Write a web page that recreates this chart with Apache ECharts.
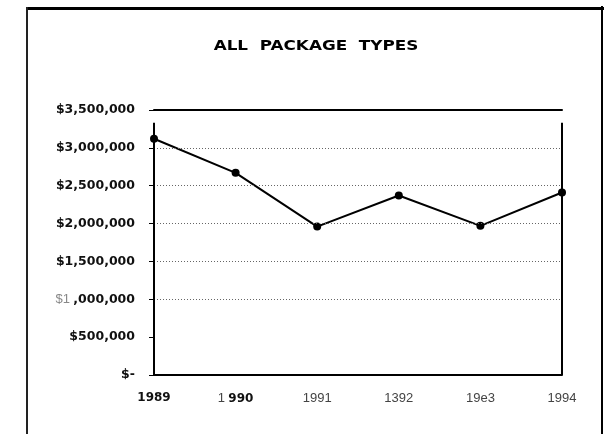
<!DOCTYPE html>
<html>
<head>
<meta charset="utf-8">
<script src="https://cdn.jsdelivr.net/npm/echarts@6/dist/echarts.min.js"></script>
<style>
  html, body { margin: 0; padding: 0; background: #fff; }
  #chart { width: 609px; height: 434px; }
</style>
</head>
<body>
<div id="chart"></div>
<script>
// ---- data ----
const titleText = 'ALL  PACKAGE  TYPES';
const categories = ['1989', '1 990', '1991', '1392', '19e3', '1994'];
const values = [3120000, 2670000, 1960000, 2370000, 1970000, 2410000];
const yTickLabels = ['$-', '$500,000', '$1 ,000,000', '$1,500,000', '$2,000,000', '$2,500,000', '$3,000,000', '$3,500,000'];
const gridValues = [1000000, 1500000, 2000000, 2500000, 3000000];
const yMax = 3500000;
const yStep = 500000;
const sideTop = 3330000;

const chart = echarts.init(document.getElementById('chart'), null, { renderer: 'canvas' });

function xLabel(v) {
  if (v === '1989') return '{b|' + v + '}';
  if (v === '1 990') return '{r|1} {b|990}';
  return '{r|' + v + '}';
}
function yLabel(v) {
  const t = yTickLabels[Math.round(v / yStep)];
  if (t === '$1 ,000,000') return '{g|$1} {b|,000,000}';
  return '{b|' + t + '}';
}

const markData = gridValues.map(v => ({
  yAxis: v,
  lineStyle: { type: [1, 2], color: '#666', width: 1 }
}));
markData.push([
  { coord: [0, 0], lineStyle: { type: 'solid', color: '#000', width: 2 } },
  { coord: [0, sideTop] }
]);
markData.push([
  { coord: [categories.length - 1, 0], lineStyle: { type: 'solid', color: '#000', width: 2 } },
  { coord: [categories.length - 1, sideTop] }
]);

const option = {
  backgroundColor: '#fff',
  animation: false,
  grid: { left: 154, right: 47, top: 110, bottom: 59, containLabel: false },
  graphic: [
    { type: 'line', shape: { x1: 26, y1: 8.5, x2: 604, y2: 8.5 }, style: { stroke: '#000', lineWidth: 3 } },
    { type: 'line', shape: { x1: 27, y1: 7, x2: 27, y2: 434 }, style: { stroke: '#222', lineWidth: 2 } },
    { type: 'line', shape: { x1: 602, y1: 6, x2: 602, y2: 434 }, style: { stroke: '#000', lineWidth: 2 } },
    {
      type: 'text', x: 316, y: 46, scaleX: 1.2,
      style: {
        text: titleText, font: 'bold 14px "DejaVu Sans", sans-serif',
        textAlign: 'center', textVerticalAlign: 'middle', fill: '#000'
      }
    }
  ],
  xAxis: [
    {
      type: 'category', data: categories, boundaryGap: false, position: 'bottom',
      axisLine: { show: true, lineStyle: { color: '#000', width: 2 } },
      axisTick: { show: false },
      splitLine: { show: false },
      axisLabel: {
        interval: 0, margin: 17, formatter: xLabel,
        rich: {
          b: { fontFamily: 'DejaVu Sans', fontWeight: 'bold', fontSize: 12, color: '#111' },
          r: { fontFamily: 'Liberation Sans', fontSize: 13, color: '#444' }
        }
      }
    },
    {
      type: 'category', data: categories, boundaryGap: false, position: 'top',
      axisLine: { show: true, lineStyle: { color: '#000', width: 2 } },
      axisTick: { show: false }, axisLabel: { show: false }, splitLine: { show: false }
    }
  ],
  yAxis: {
    type: 'value', min: 0, max: yMax, interval: yStep,
    axisLine: { show: false },
    axisTick: { show: true, length: 5, lineStyle: { color: '#000', width: 1 } },
    splitLine: { show: false },
    axisLabel: {
      margin: 19, formatter: yLabel,
      rich: {
        b: { fontFamily: 'DejaVu Sans', fontWeight: 'bold', fontSize: 12.5, color: '#111' },
        g: { fontFamily: 'Liberation Sans', fontSize: 13, color: '#888' }
      }
    }
  },
  series: [{
    type: 'line', data: values, xAxisIndex: 0,
    symbol: 'circle', symbolSize: 8,
    lineStyle: { color: '#000', width: 2 },
    itemStyle: { color: '#000' },
    markLine: {
      silent: true, symbol: ['none', 'none'], label: { show: false },
      data: markData
    }
  }]
};
chart.setOption(option);
</script>
</body>
</html>
